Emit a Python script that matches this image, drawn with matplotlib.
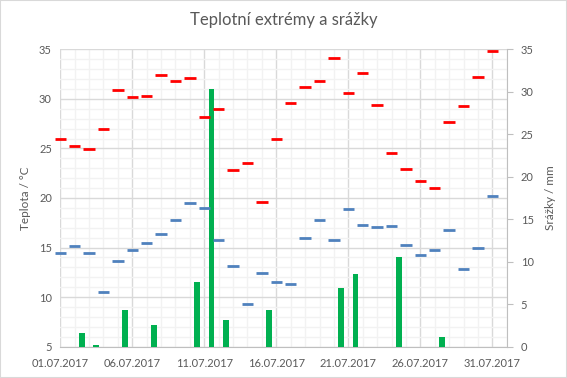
import numpy as np
import matplotlib.pyplot as plt
from matplotlib.ticker import MultipleLocator, FixedLocator
from matplotlib.patches import Rectangle

plt.rcParams['font.family'] = ['Lato', 'DejaVu Sans']

# daily data for July 2017
days = np.arange(1, 32)
t_max = [26.0, 25.2, 24.9, 27.0, 30.9, 30.2, 30.3, 32.4, 31.8, 32.1,
         28.2, 29.0, 22.8, 23.5, 19.6, 26.0, 29.6, 31.2, 31.8, 34.1,
         30.6, 32.6, 29.4, 24.5, 22.9, 21.7, 21.0, 27.7, 29.3, 32.2, 34.8]
t_min = [14.5, 15.2, 14.5, 10.5, 13.6, 14.8, 15.5, 16.4, 17.8, 19.5,
         19.0, 15.8, 13.1, 9.3, 12.4, 11.5, 11.3, 16.0, 17.8, 15.8,
         18.9, 17.3, 17.1, 17.2, 15.3, 14.2, 14.8, 16.8, 12.8, 15.0, 20.2]
precip = [0, 1.6, 0.2, 0, 4.3, 0, 2.5, 0, 0, 7.6,
          30.3, 3.1, 0, 0, 4.3, 0, 0, 0, 0, 6.9,
          8.5, 0, 0, 10.5, 0, 0, 1.1, 0, 0, 0, 0]
tick_days = days[::5]
tick_labels = [f'{d:02d}.07.2017' for d in tick_days]

grey = '#595959'

fig = plt.figure(figsize=(5.67, 3.78), dpi=100)
fig.patches.append(Rectangle((0, 0), 1, 1, transform=fig.transFigure, fill=False,
                             edgecolor='#D9D9D9', lw=1.5))
ax = fig.add_axes([0.1063, 0.0828, 0.7874, 0.7868])
ax2 = ax.twinx()

ax.set_xlim(1, 32)
ax.set_ylim(5, 35)
ax2.set_ylim(0, 35)

# grid
ax.xaxis.set_major_locator(FixedLocator(tick_days))
ax.xaxis.set_minor_locator(MultipleLocator(1))
ax.yaxis.set_major_locator(MultipleLocator(5))
ax.yaxis.set_minor_locator(MultipleLocator(1))
ax.grid(which='major', color='#D9D9D9', lw=1)
ax.grid(which='minor', color='#F2F2F2', lw=1)
ax.set_axisbelow(True)
ax.set_xticklabels(tick_labels)

# precipitation bars, shifted half a day
ax2.bar(days + 0.5, precip, width=0.4, color='#00B050', zorder=2)

# temperature dashes drawn on top of the bars
ax2.hlines(t_max, days - 0.4, days + 0.4, colors='#FF0000', lw=2.0,
           transform=ax.transData, clip_on=False, zorder=3)
ax2.hlines(t_min, days - 0.4, days + 0.4, colors='#4F81BD', lw=2.0,
           transform=ax.transData, clip_on=False, zorder=3)
ax2.set_ylim(0, 35)
ax2.yaxis.set_major_locator(MultipleLocator(5))

for a in (ax, ax2):
    for s in a.spines.values():
        s.set_visible(False)
ax.spines['bottom'].set_visible(True)
ax.spines['bottom'].set_color('#BFBFBF')
ax2.spines['right'].set_visible(True)
ax2.spines['right'].set_color('#BFBFBF')

ax.tick_params(which='both', length=0, labelsize=8, labelcolor=grey, pad=6)
ax.tick_params(axis='x', pad=8)
ax2.tick_params(axis='y', length=4, color='#BFBFBF', labelsize=8, labelcolor=grey, pad=6)

ax.set_ylabel('Teplota / °C', fontsize=8.5, color=grey, labelpad=6)
ax2.set_ylabel('Srážky / mm', fontsize=8.5, color=grey, labelpad=8)
fig.suptitle('Teplotní extrémy a srážky', fontsize=12, color=grey, y=0.968)

fig.savefig('out.png', dpi=100)
